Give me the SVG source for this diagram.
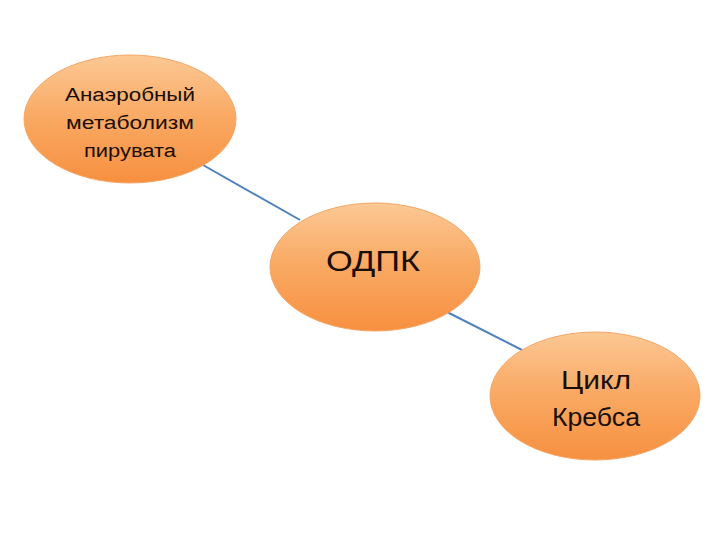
<svg xmlns="http://www.w3.org/2000/svg" width="720" height="540" viewBox="0 0 720 540">
<defs>
<linearGradient id="og" x1="0" y1="0" x2="0" y2="1">
<stop offset="0" stop-color="#fcc894"/>
<stop offset="0.5" stop-color="#f9a862"/>
<stop offset="1" stop-color="#f79040"/>
</linearGradient>
<style>
.n{fill:url(#og);stroke:#f3a768;stroke-width:1}
.t{font-family:"Liberation Sans","Open Sans",sans-serif;fill:#1a0e08;text-anchor:middle}
.c{stroke:#4f81bd;stroke-width:2;fill:none}
</style>
</defs>
<rect width="720" height="540" fill="#ffffff"/>
<g id="connectors">
<line class="c" x1="203" y1="165" x2="300" y2="220"/>
<line class="c" x1="447" y1="312" x2="522" y2="350"/>
</g>
<g id="node1">
<ellipse class="n" cx="130" cy="119" rx="106" ry="64"/>
<text class="t" font-size="18" x="130" y="101" textLength="130" lengthAdjust="spacingAndGlyphs">Анаэробный</text>
<text class="t" font-size="18" x="130" y="129" textLength="128" lengthAdjust="spacingAndGlyphs">метаболизм</text>
<text class="t" font-size="18" x="130" y="157" textLength="92" lengthAdjust="spacingAndGlyphs">пирувата</text>
</g>
<g id="node2">
<ellipse class="n" cx="375" cy="267" rx="105" ry="64"/>
<text class="t" font-size="30" x="373" y="271" textLength="94" lengthAdjust="spacingAndGlyphs">ОДПК</text>
</g>
<g id="node3">
<ellipse class="n" cx="595" cy="396" rx="105" ry="64"/>
<text class="t" font-size="26" x="596" y="389" textLength="70" lengthAdjust="spacingAndGlyphs">Цикл</text>
<text class="t" font-size="26" x="596" y="426" textLength="88" lengthAdjust="spacingAndGlyphs">Кребса</text>
</g>
</svg>
